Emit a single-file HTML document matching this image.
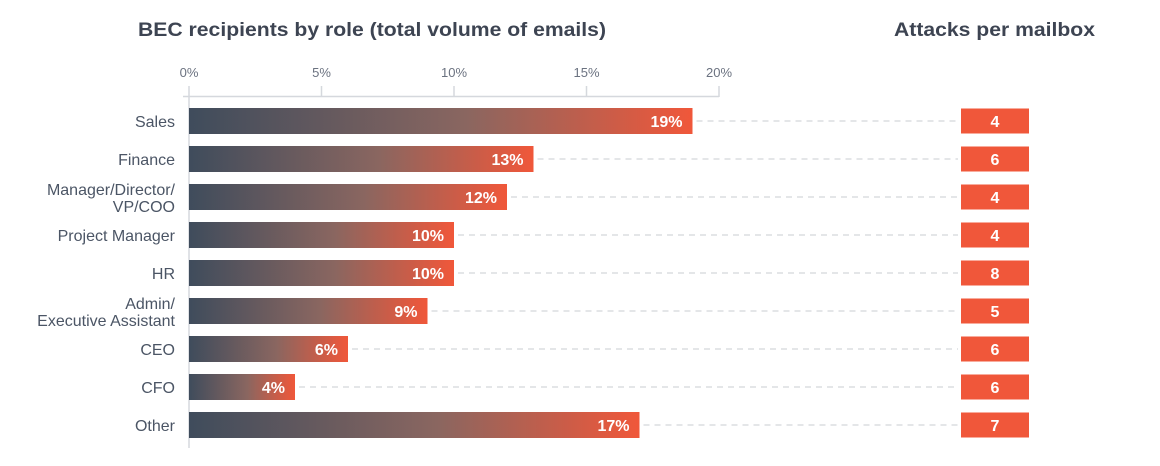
<!DOCTYPE html>
<html><head><meta charset="utf-8"><style>
body{margin:0;background:#fff;}
svg text{font-family:"Liberation Sans",sans-serif;}
</style></head><body>
<svg width="1160" height="461" viewBox="0 0 1160 461" xmlns="http://www.w3.org/2000/svg">
<defs>
<linearGradient id="g" x1="0" x2="1" y1="0" y2="0">
<stop offset="0" stop-color="#3f4c5c"/>
<stop offset="0.55" stop-color="#8a6660"/>
<stop offset="1" stop-color="#f0573a"/>
</linearGradient>
</defs>
<text x="138" y="36" font-size="19" font-weight="bold" fill="#3d4452" textLength="468" lengthAdjust="spacingAndGlyphs">BEC recipients by role (total volume of emails)</text>
<text x="894" y="36" font-size="19" font-weight="bold" fill="#3d4452" textLength="201" lengthAdjust="spacingAndGlyphs">Attacks per mailbox</text>
<g font-size="13" fill="#6b7280" text-anchor="middle">
<text x="189" y="77">0%</text><text x="321.5" y="77">5%</text><text x="454" y="77">10%</text><text x="586.5" y="77">15%</text><text x="719" y="77">20%</text>
</g>
<g stroke="#d5d8dd" stroke-width="1.5">
<line x1="183" y1="96.5" x2="719" y2="96.5"/>
<line x1="189" y1="86" x2="189" y2="448"/>
<line x1="321.5" y1="86" x2="321.5" y2="97"/>
<line x1="454" y1="86" x2="454" y2="97"/>
<line x1="586.5" y1="86" x2="586.5" y2="97"/>
<line x1="719" y1="86" x2="719" y2="97"/>
</g>
<g id="rows" font-size="16"></g>
</svg>
<script>
var d=[["Sales",19,4],["Finance",13,6],["Manager/Director/|VP/COO",12,4],["Project Manager",10,4],["HR",10,8],["Admin/|Executive Assistant",9,5],["CEO",6,6],["CFO",4,6],["Other",17,7]];
var g=document.getElementById('rows'),s='';
d.forEach(function(r,i){var c=121+38*i,w=r[1]*26.5,x2=189+w;
s+='<line x1="'+(x2+4)+'" y1="'+c+'" x2="958" y2="'+c+'" stroke="#c9ccd2" stroke-dasharray="6,5" stroke-width="1"/>';
s+='<rect x="189" y="'+(c-13)+'" width="'+w+'" height="26" fill="url(#g)"/>';
s+='<text x="'+(x2-10)+'" y="'+(c+6)+'" text-anchor="end" fill="#fff" font-weight="bold">'+r[1]+'%</text>';
s+='<rect x="961" y="'+(c-12.5)+'" width="68" height="25" fill="#f0573a"/>';
s+='<text x="995" y="'+(c+6)+'" text-anchor="middle" fill="#fff" font-weight="bold">'+r[2]+'</text>';
var L=r[0].split('|');
if(L.length==1)s+='<text x="175" y="'+(c+6)+'" text-anchor="end" fill="#4b5565">'+L[0]+'</text>';
else s+='<text x="175" y="'+(c-2)+'" text-anchor="end" fill="#4b5565">'+L[0]+'</text><text x="175" y="'+(c+15)+'" text-anchor="end" fill="#4b5565">'+L[1]+'</text>';
});
g.innerHTML=s;
</script>
</body></html>
